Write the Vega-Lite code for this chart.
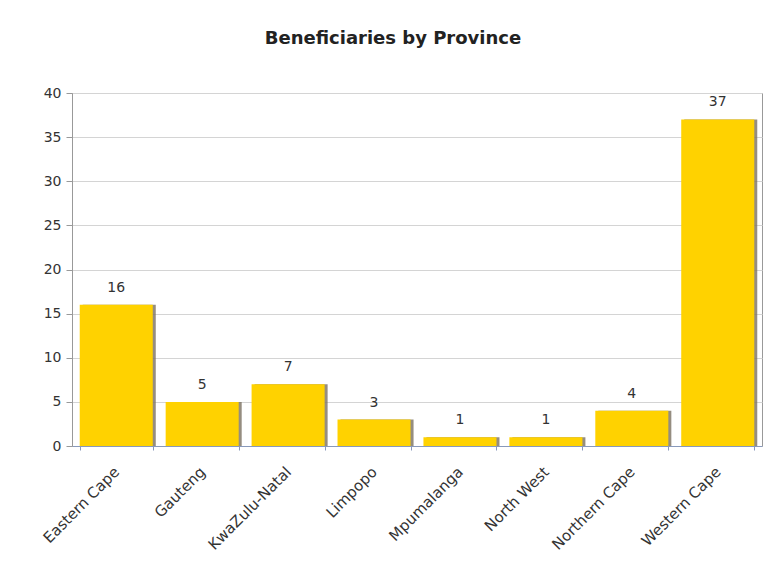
{
  "$schema": "https://vega.github.io/schema/vega-lite/v6.json",
  "autosize": {"type": "none"},
  "width": 690,
  "height": 353,
  "padding": {"left": 72, "top": 93, "right": 4, "bottom": 123},
  "background": "#ffffff",
  "title": {
    "text": "Beneficiaries by Province",
    "font": "DejaVu Sans",
    "fontSize": 18,
    "fontWeight": "bold",
    "color": "#222222",
    "anchor": "middle",
    "dx": -24,
    "offset": 38
  },
  "data": {
    "values": [
      {"province": "Eastern Cape", "count": 16},
      {"province": "Gauteng", "count": 5},
      {"province": "KwaZulu-Natal", "count": 7},
      {"province": "Limpopo", "count": 3},
      {"province": "Mpumalanga", "count": 1},
      {"province": "North West", "count": 1},
      {"province": "Northern Cape", "count": 4},
      {"province": "Western Cape", "count": 37}
    ]
  },
  "encoding": {
    "x": {
      "field": "province",
      "type": "nominal",
      "sort": null,
      "scale": {"paddingInner": 0.15, "paddingOuter": 0.09},
      "axis": {
        "title": null,
        "labelAngle": -45,
        "labelAlign": "right",
        "labelBaseline": "middle",
        "labelFont": "DejaVu Sans",
        "labelFontSize": 15,
        "labelColor": "#333333",
        "labelPadding": 19,
        "tickBand": "extent",
        "tickColor": "#8899bb",
        "tickSize": 4,
        "domainColor": "#8899bb"
      }
    },
    "y": {
      "field": "count",
      "type": "quantitative",
      "scale": {"domain": [0, 40], "nice": false},
      "axis": {
        "title": null,
        "values": [0, 5, 10, 15, 20, 25, 30, 35, 40],
        "labelFont": "DejaVu Sans",
        "labelFontSize": 14,
        "labelColor": "#333333",
        "labelPadding": 5,
        "tickColor": "#999999",
        "tickSize": 6,
        "domainColor": "#999999",
        "gridColor": "#d4d4d4",
        "grid": true
      }
    }
  },
  "layer": [
    {
      "mark": {"type": "bar", "color": "#7a7060", "xOffset": 3, "opacity": 0.8}
    },
    {
      "mark": {"type": "bar", "color": "#FFD200"}
    },
    {
      "mark": {"type": "text", "baseline": "bottom", "dy": -10, "font": "DejaVu Sans", "fontSize": 14, "color": "#333333"},
      "encoding": {"text": {"field": "count", "type": "quantitative"}}
    }
  ],
  "config": {
    "view": {"stroke": "#999999", "strokeWidth": 1}
  }
}
